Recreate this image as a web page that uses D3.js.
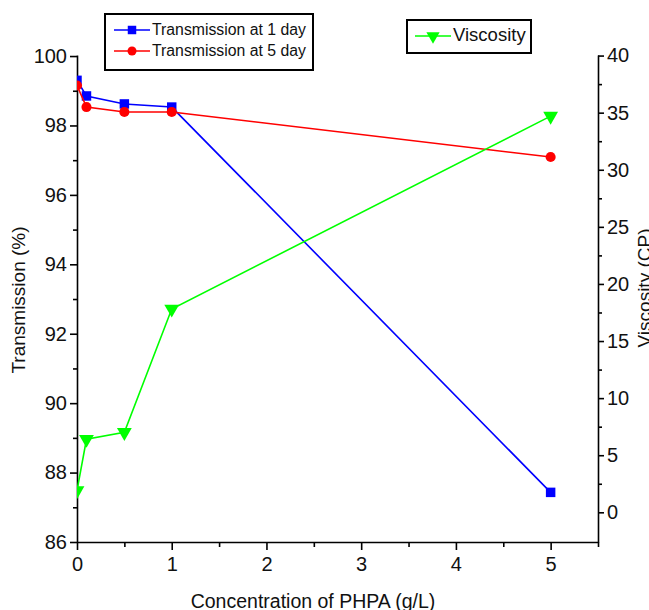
<!DOCTYPE html>
<html lang="en">
<head>
    <meta charset="UTF-8">
    <title>Transmission and viscosity vs PHPA</title>
    <script src="https://cdn.jsdelivr.net/npm/d3@7"></script>
    <style>
        body { margin: 0; background: #fff; }
        svg { font-family: "Liberation Sans", Arial, sans-serif; }
        .axis path, .axis line { stroke: #000; stroke-width: 1.6; }
        .axis text { font-size: 20px; fill: #111; }
    </style>
</head>
<body>

<svg width="649" height="610"></svg>

<script>

    // data
    var conc = [0, 0.1, 0.5, 1, 5];
    var trans1 = [99.3, 98.85, 98.62, 98.53, 87.43];
    var trans5 = [99.15, 98.53, 98.39, 98.39, 97.09];
    var viscosity = [1.9, 6.4, 7.0, 17.8, 34.7];

    var xTicks = [0, 1, 2, 3, 4, 5];
    var leftTicks = [86, 88, 90, 92, 94, 96, 98, 100];
    var rightTicks = [0, 5, 10, 15, 20, 25, 30, 35, 40];

    var svg = d3.select("svg");

    var plotLeft = 77, plotRight = 598, plotTop = 55, plotBottom = 542;

    var x = d3.scaleLinear().domain([0, 5.5]).range([plotLeft, plotRight]);
    var yL = d3.scaleLinear().domain([86, 100.03]).range([plotBottom, plotTop]);
    var yR = d3.scaleLinear().domain([-2.6, 40.05]).range([plotBottom, plotTop]);

    // markers sitting on x = 0 are cut by the axis in the original
    svg.append("clipPath").attr("id", "plot-clip")
            .append("rect")
            .attr("x", plotLeft).attr("y", 0)
            .attr("width", plotRight - plotLeft + 10).attr("height", plotBottom);

    // bottom axis
    svg.append("g")
            .attr("class", "axis")
            .attr("transform", "translate(0," + plotBottom + ")")
            .call(d3.axisBottom(x).tickValues(xTicks).tickFormat(d3.format("d"))
                    .tickSizeInner(8).tickSizeOuter(0).tickPadding(7));
    svg.append("g")
            .attr("class", "axis")
            .attr("transform", "translate(0," + plotBottom + ")")
            .call(d3.axisBottom(x).tickValues([0.5, 1.5, 2.5, 3.5, 4.5, 5.5]).tickFormat("")
                    .tickSizeInner(5).tickSizeOuter(0))
            .select(".domain").remove();

    // left axis
    svg.append("g")
            .attr("class", "axis")
            .attr("transform", "translate(" + plotLeft + ",0)")
            .call(d3.axisLeft(yL).tickValues(leftTicks).tickFormat(d3.format("d"))
                    .tickSizeInner(7).tickSizeOuter(0).tickPadding(3));
    svg.append("g")
            .attr("class", "axis")
            .attr("transform", "translate(" + plotLeft + ",0)")
            .call(d3.axisLeft(yL).tickValues([87, 89, 91, 93, 95, 97, 99]).tickFormat("")
                    .tickSizeInner(4).tickSizeOuter(0))
            .select(".domain").remove();

    // right axis
    svg.append("g")
            .attr("class", "axis")
            .attr("transform", "translate(" + plotRight + ",0)")
            .call(d3.axisRight(yR).tickValues(rightTicks).tickFormat(d3.format("d"))
                    .tickSizeInner(6).tickSizeOuter(0).tickPadding(3));
    svg.append("g")
            .attr("class", "axis")
            .attr("transform", "translate(" + plotRight + ",0)")
            .call(d3.axisRight(yR).tickValues([2.5, 7.5, 12.5, 17.5, 22.5, 27.5, 32.5, 37.5]).tickFormat("")
                    .tickSizeInner(4).tickSizeOuter(0))
            .select(".domain").remove();

    // axis titles
    svg.append("text")
            .attr("x", 313).attr("y", 608)
            .attr("text-anchor", "middle")
            .style("font-size", "19.5px").style("fill", "#111")
            .text("Concentration of PHPA (g/L)");
    svg.append("text")
            .attr("transform", "translate(25,300) rotate(-90)")
            .attr("text-anchor", "middle")
            .style("font-size", "19px").style("fill", "#111")
            .text("Transmission (%)");
    svg.append("text")
            .attr("transform", "translate(651,288) rotate(-90)")
            .attr("text-anchor", "middle")
            .style("font-size", "19px").style("fill", "#111")
            .text("Viscosity (CP)");

    // series
    var series = [
        {name: "Transmission at 1 day", values: trans1, y: yL, color: "#0000ff", symbol: d3.symbolSquare, size: 90},
        {name: "Transmission at 5 day", values: trans5, y: yL, color: "#ff0000", symbol: d3.symbolCircle, size: 80},
        {name: "Viscosity", values: viscosity, y: yR, color: "#00ff00", symbol: d3.symbolTriangle, size: 95, flip: true}
    ];

    var plot = svg.append("g").attr("clip-path", "url(#plot-clip)");

    series.forEach(function(s) {
        var line = d3.line()
                .x(function(d, i) { return x(conc[i]); })
                .y(function(d) { return s.y(d); });

        plot.append("path")
                .datum(s.values)
                .attr("d", line)
                .attr("fill", "none")
                .attr("stroke", s.color)
                .attr("stroke-width", 1.6);

        plot.selectAll("path.m-" + s.color.slice(1))
                .data(s.values)
                .enter()
                .append("path")
                .attr("class", "m-" + s.color.slice(1))
                .attr("d", d3.symbol().type(s.symbol).size(s.size))
                .attr("transform", function(d, i) {
                    return "translate(" + x(conc[i]) + "," + s.y(d) + ")" + (s.flip ? " rotate(180)" : "");
                })
                .attr("fill", s.color);
    });

    // legends
    function legendItem(g, s, lx, ly, fontSize) {
        g.append("line")
                .attr("x1", lx).attr("x2", lx + 36)
                .attr("y1", ly).attr("y2", ly)
                .attr("stroke", s.color).attr("stroke-width", 1.6);
        g.append("path")
                .attr("d", d3.symbol().type(s.symbol).size(s.size * 0.8))
                .attr("transform", "translate(" + (lx + 18) + "," + ly + ")" + (s.flip ? " rotate(180)" : ""))
                .attr("fill", s.color);
        g.append("text")
                .attr("x", lx + 38).attr("y", ly + 5)
                .style("font-size", fontSize).style("fill", "#111")
                .text(s.name);
    }

    var leg1 = svg.append("g");
    leg1.append("rect")
            .attr("x", 105).attr("y", 14).attr("width", 208).attr("height", 56)
            .attr("fill", "#fff").attr("stroke", "#000").attr("stroke-width", 2);
    legendItem(leg1, series[0], 114, 30, "15.8px");
    legendItem(leg1, series[1], 114, 51, "15.8px");

    var leg2 = svg.append("g");
    leg2.append("rect")
            .attr("x", 407).attr("y", 20).attr("width", 124).attr("height", 33)
            .attr("fill", "#fff").attr("stroke", "#000").attr("stroke-width", 2);
    legendItem(leg2, series[2], 415, 36, "18.5px");

</script>

</body>
</html>
